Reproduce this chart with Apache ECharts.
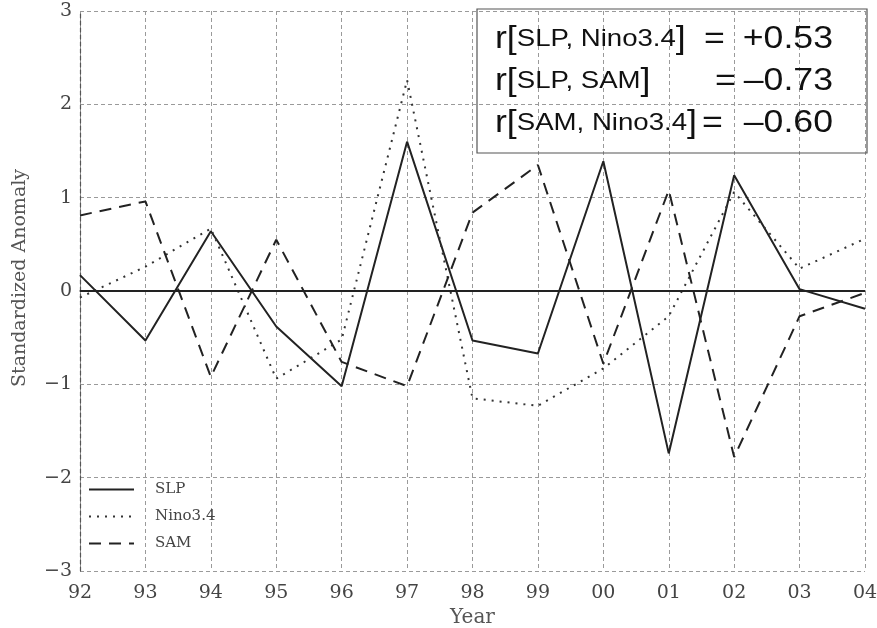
<!DOCTYPE html>
<html><head><meta charset="utf-8">
<script src="https://cdn.jsdelivr.net/npm/echarts@6/dist/echarts.min.js"></script>
<style>html,body{margin:0;padding:0;background:#fff}#c{width:877px;height:628px}</style>
</head><body><div id="c"></div>
<script>
var years = ['92','93','94','95','96','97','98','99','00','01','02','03','04'];
var slp   = [0.17,-0.53,0.64,-0.38,-1.02,1.60,-0.53,-0.67,1.39,-1.74,1.24,0.02,-0.19];
var nino  = [-0.07,0.26,0.67,-0.94,-0.52,2.26,-1.15,-1.23,-0.83,-0.27,1.06,0.24,0.56];
var sam   = [0.81,0.96,-0.92,0.55,-0.76,-1.02,0.84,1.35,-0.78,1.08,-1.78,-0.27,-0.02];
var yTicks = {min:-3, max:3, step:1};
var corrLabels = ['SLP, Nino3.4','SLP, SAM','SAM, Nino3.4'];
var corrValues = ['+0.53','\u20130.73','\u20130.60'];

var serif = 'DejaVu Serif';
var chart = echarts.init(document.getElementById('c'));
var grid = {left:80, right:12, top:11, bottom:57, containLabel:false, outerBoundsMode:'none'};
var graphics = [{type:'rect', shape:{x:477,y:9,width:390,height:144}, style:{fill:'rgba(255,255,255,0)', stroke:'#555', lineWidth:1.2}, z:100}];
var lineY = [39, 81, 123];
var eqX = [704, 715, 702];
var sx = 1.15;
for (var i=0;i<3;i++){
  graphics.push({type:'text', x:495, y:lineY[i], scaleX:sx, z:101, style:{
    text:'{a|r[}{b|'+corrLabels[i]+'}{a|]}', verticalAlign:'middle',
    rich:{a:{fontFamily:'Liberation Sans',fontSize:31,fill:'#111'},b:{fontFamily:'Liberation Sans',fontSize:24,fill:'#111'}}}});
  graphics.push({type:'text', x:eqX[i], y:lineY[i], scaleX:sx, z:101, style:{
    text:'=', fontFamily:'Liberation Sans', fontSize:31, fill:'#111', verticalAlign:'middle'}});
  graphics.push({type:'text', x:833, y:lineY[i], scaleX:sx, z:101, style:{
    text:corrValues[i], fontFamily:'Liberation Sans', fontSize:31, fill:'#111', align:'right', verticalAlign:'middle'}});
}
var dashGrid = {color:'#9a9a9a', width:1, type:[4,3]};
chart.setOption({
  animation:false,
  grid:grid,
  legend:{orient:'vertical', left:83, top:477, itemWidth:45, itemHeight:14, itemGap:12,
    itemStyle:{opacity:0},
    textStyle:{fontFamily:serif, fontSize:15, color:'#444', padding:[0,0,0,16]},
    data:['SLP','Nino3.4','SAM']},
  xAxis:{type:'category', data:years, boundaryGap:false,
    name:'Year', nameLocation:'middle', nameGap:36,
    nameTextStyle:{fontFamily:serif, fontSize:20, color:'#555'},
    axisLine:{lineStyle:{color:'#555', width:1.5, type:[4,3]}},
    axisTick:{show:false},
    axisLabel:{fontFamily:serif, fontSize:19, color:'#444', margin:13},
    splitLine:{show:true, lineStyle:dashGrid}},
  yAxis:{type:'value', min:yTicks.min, max:yTicks.max, interval:yTicks.step,
    name:'Standardized Anomaly', nameLocation:'middle', nameGap:50,
    nameTextStyle:{fontFamily:serif, fontSize:19, color:'#555', padding:[0,0,0,26]},
    axisLine:{show:true, lineStyle:{color:'#555', width:1.2, type:[4,3]}},
    axisTick:{show:false},
    axisLabel:{fontFamily:serif, fontSize:19, color:'#444', margin:8,
      formatter:function(v){return v<0?'\u2212'+(-v):String(v);}},
    splitLine:{show:true, lineStyle:dashGrid}},
  series:[
    {name:'SLP', type:'line', data:slp, symbol:'none', color:'#222',
     lineStyle:{color:'#222', width:2, type:'solid'},
     markLine:{silent:true, symbol:'none', label:{show:false},
       lineStyle:{color:'#222', width:2, type:'solid'}, data:[{yAxis:0}]}},
    {name:'Nino3.4', type:'line', data:nino, symbol:'none', color:'#333',
     lineStyle:{color:'#333', width:2, type:[2,6]}},
    {name:'SAM', type:'line', data:sam, symbol:'none', color:'#222',
     lineStyle:{color:'#222', width:2, type:[12,8]}}
  ],
  graphic:graphics
});
</script></body></html>
